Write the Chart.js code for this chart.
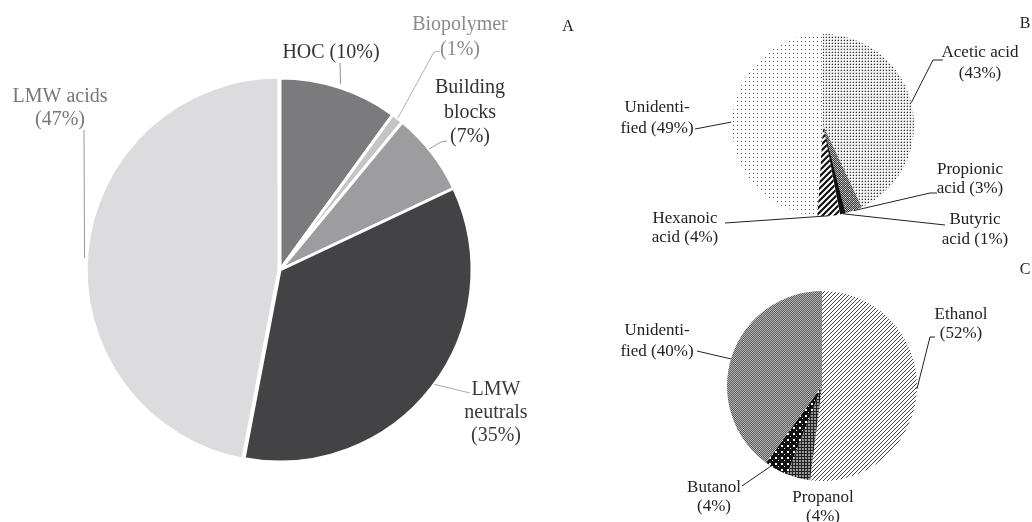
<!DOCTYPE html>
<html>
<head>
<meta charset="utf-8">
<script src="https://cdn.jsdelivr.net/npm/chart.js@4.4.0/dist/chart.umd.min.js"></script>
<style>
  html, body { margin: 0; padding: 0; background: #fff; }
  #wrap { position: relative; width: 1032px; height: 522px; overflow: hidden; }
  #wrap canvas { position: absolute; left: 0; top: 0; }
</style>
</head>
<body>
<div id="wrap">
  <canvas id="chartA" width="1032" height="522"></canvas>
  <canvas id="chartB" width="1032" height="522"></canvas>
  <canvas id="chartC" width="1032" height="522"></canvas>
</div>
<script>
// DATA (percent shares)

// A - DOC fractions
const aLabels = ['HOC', 'Biopolymer', 'Building blocks', 'LMW neutrals', 'LMW acids'];
const aValues = [10, 1, 7, 35, 47];
// B - LMW acids
const bLabels = ['Acetic acid', 'Propionic acid', 'Butyric acid', 'Hexanoic acid', 'Unidentified'];
const bValues = [43, 3, 1, 4, 49];
// C - LMW neutrals
const cLabels = ['Ethanol', 'Propanol', 'Butanol', 'Unidentified'];
const cValues = [52, 4, 4, 40];

// label text lines, {v} gets the value
const aText = [['HOC ({v}%)'], ['Biopolymer', '({v}%)'], ['Building', 'blocks', '({v}%)'], ['LMW', 'neutrals', '({v}%)'], ['LMW acids', '({v}%)']];
const bText = [['Acetic acid', '({v}%)'], ['Propionic', 'acid ({v}%)'], ['Butyric', 'acid ({v}%)'], ['Hexanoic', 'acid ({v}%)'], ['Unidenti-', 'fied ({v}%)']];
const cText = [['Ethanol', '({v}%)'], ['Propanol', '({v}%)'], ['Butanol', '({v}%)'], ['Unidenti-', 'fied ({v}%)']];

// ----------------------------------------------------------------------------

const FONT = '"Liberation Serif", "Times New Roman", serif';

// small repeating fills for the black & white pies
function makePattern(size, draw) {
    const c = document.createElement('canvas');
    c.width = size;
    c.height = size;
    const g = c.getContext('2d');
    draw(g, size);
    return g.createPattern(c, 'repeat');
}

function diagonal(size, width, color) {
    return makePattern(size, (g, s) => {
        g.fillStyle = '#fff';
        g.fillRect(0, 0, s, s);
        g.strokeStyle = color;
        g.lineWidth = width;
        g.beginPath();
        g.moveTo(-1, s + 1); g.lineTo(s + 1, -1);
        g.moveTo(-1, 1); g.lineTo(1, -1);
        g.moveTo(s - 1, s + 1); g.lineTo(s + 1, s - 1);
        g.stroke();
    });
}

// denser, darker dots for acetic acid
const pAcetic = makePattern(3, (g) => {
    g.fillStyle = '#f4f4f4';
    g.fillRect(0, 0, 3, 3);
    g.fillStyle = '#bbb';
    g.fillRect(0, 1, 1, 1);
    g.fillRect(1, 0, 1, 1);
    g.fillStyle = '#333';
    g.fillRect(1, 1, 1, 1);
});
// sparse dots for the unidentified part
const pUnidB = makePattern(4, (g) => {
    g.fillStyle = '#fff';
    g.fillRect(0, 0, 4, 4);
    g.fillStyle = '#555';
    g.fillRect(1, 1, 1, 1);
});
const pPropionic = makePattern(4, (g) => {
    for (let x = 0; x < 4; x++) {
        for (let y = 0; y < 4; y++) {
            g.fillStyle = (x + y) % 2 ? '#3c3c3c' : '#b0b0b0';
            g.fillRect(x, y, 1, 1);
        }
    }
    g.fillStyle = '#fff';
    g.fillRect(1, 1, 1, 1);
});
const pHexanoic = diagonal(6, 2.2, '#111');
const pEthanol = diagonal(4, 1, '#444');
const pPropanol = makePattern(3, (g) => {
    g.fillStyle = '#9a9a9a';
    g.fillRect(0, 0, 3, 3);
    g.fillStyle = '#222';
    g.fillRect(0, 0, 3, 1);
    g.fillRect(0, 0, 1, 3);
});
const pButanol = makePattern(6, (g) => {
    g.fillStyle = '#111';
    g.fillRect(0, 0, 6, 6);
    g.fillStyle = '#fff';
    g.fillRect(1, 1, 2, 2);
    g.fillRect(4, 4, 1, 1);
});
const pUnidC = makePattern(2, (g) => {
    g.fillStyle = '#5a5a5a';
    g.fillRect(0, 0, 2, 2);
    g.fillStyle = '#b8b8b8';
    g.fillRect(0, 0, 1, 1);
    g.fillRect(1, 1, 1, 1);
});

// callout layout: t = position along slice angle, r = fraction of radius,
// path = leader points from the text side, pos = centre of first text line
const aCallouts = [
    { t: 0.5, r: 1.02, path: [[340, 63]], pos: [331, 53], lh: 24, color: '#333', line: '#8c8c8c' },
    { t: 0.5, r: 1.0, path: [[440, 51], [434, 52]], pos: [460, 25], lh: 25, color: '#8a8a8a', line: '#b0b0b0' },
    { t: 0.45, r: 1.0, path: [[447, 141], [441, 142]], pos: [470, 88], lh: 24.5, color: '#333', line: '#9a9a9a' },
    { t: 0.49, r: 1.0, path: [[470, 393]], pos: [496, 390], lh: 23, color: '#3a3a3a', line: '#aaa' },
    { t: 0.489, r: 1.02, path: [[84, 130]], pos: [60, 97], lh: 23, color: '#777', line: '#999' }
];
const bCallouts = [
    { t: 0.49, r: 1.0, path: [[943, 60], [933, 60]], pos: [980, 53], lh: 21, color: '#222', line: '#222' },
    { t: 0.5, r: 1.0, path: [[937, 193], [930, 193]], pos: [970, 170], lh: 19, color: '#222', line: '#222' },
    { t: 0.5, r: 1.0, path: [[945, 225]], pos: [975, 220], lh: 20, color: '#222', line: '#222' },
    { t: 0.5, r: 1.0, path: [[725, 223]], pos: [685, 219], lh: 19, color: '#222', line: '#222' },
    { t: 0.5, r: 1.01, path: [[695, 129]], pos: [657, 108], lh: 21, color: '#222', line: '#222' }
];
const cCallouts = [
    { t: 0.49, r: 1.0, path: [[935, 337], [930, 337]], pos: [961, 315], lh: 19, color: '#222', line: '#222' },
    { t: 0.5, r: 1.0, path: null, pos: [823, 498], lh: 19, color: '#222', line: '#222' },
    { t: 0.76, r: 1.0, path: [[742, 486]], pos: [714, 488], lh: 19, color: '#222', line: '#222' },
    { t: 0.49, r: 1.0, path: [[697, 351]], pos: [657, 331], lh: 21, color: '#222', line: '#222' }
];

// draws leader lines, labels and panel letter
const calloutPlugin = {
    id: 'callouts',
    afterDatasetsDraw(chart, args, opts) {
        const ctx = chart.ctx;
        const meta = chart.getDatasetMeta(0);
        const values = chart.data.datasets[0].data;
        ctx.save();
        opts.items.forEach((item, i) => {
            const p = meta.data[i].getProps(['x', 'y', 'startAngle', 'endAngle', 'outerRadius'], true);
            const a = p.startAngle + item.t * (p.endAngle - p.startAngle);
            const ax = p.x + Math.cos(a) * p.outerRadius * item.r;
            const ay = p.y + Math.sin(a) * p.outerRadius * item.r;
            if (item.path) {
                ctx.strokeStyle = item.line;
                ctx.lineWidth = 1;
                ctx.beginPath();
                ctx.moveTo(item.path[0][0], item.path[0][1]);
                item.path.slice(1).forEach(pt => ctx.lineTo(pt[0], pt[1]));
                ctx.lineTo(ax, ay);
                ctx.stroke();
            }
            ctx.fillStyle = item.color;
            ctx.font = opts.fontSize + 'px ' + FONT;
            ctx.textAlign = 'center';
            ctx.textBaseline = 'middle';
            opts.text[i].forEach((line, k) => {
                ctx.fillText(line.replace('{v}', values[i]), item.pos[0], item.pos[1] + k * item.lh);
            });
        });
        ctx.fillStyle = '#222';
        ctx.font = '16px ' + FONT;
        ctx.textAlign = 'center';
        ctx.textBaseline = 'middle';
        ctx.fillText(opts.letter[0], opts.letter[1], opts.letter[2]);
        ctx.restore();
    }
};

function makePie(id, labels, values, colors, extra, padding, radius, plugOpts) {
    const ctx = document.getElementById(id).getContext('2d');
    return new Chart(ctx, {
        type: 'pie',
        data: {
            labels: labels,
            datasets: [Object.assign({
                data: values,
                backgroundColor: colors,
                borderWidth: 0,
                radius: radius
            }, extra)]
        },
        options: {
            responsive: false,
            animation: false,
            radius: radius,
            layout: { padding: padding },
            plugins: {
                legend: { display: false },
                tooltip: { enabled: false },
                callouts: plugOpts
            }
        },
        plugins: [calloutPlugin]
    });
}

makePie('chartA', aLabels, aValues,
    ['#7b7b7e', '#c4c4c6', '#9d9da0', '#434346', '#dcdcde'],
    { borderColor: '#fff', borderWidth: 3, offset: [0, 0, 0, 0, 4] },
    { left: 0, right: 472, top: 18, bottom: 0 }, 192,
    { items: aCallouts, text: aText, fontSize: 20, letter: ['A', 568, 27] });

makePie('chartB', bLabels, bValues,
    [pAcetic, pPropionic, '#111', pHexanoic, pUnidB],
    {},
    { left: 614, right: 0, top: 0, bottom: 272 }, 91,
    { items: bCallouts, text: bText, fontSize: 17, letter: ['B', 1025, 24] });

makePie('chartC', cLabels, cValues,
    [pEthanol, pPropanol, pButanol, pUnidC],
    {},
    { left: 612, right: 0, top: 250, bottom: 0 }, 95,
    { items: cCallouts, text: cText, fontSize: 17, letter: ['C', 1025, 270] });
</script>
</body>
</html>
